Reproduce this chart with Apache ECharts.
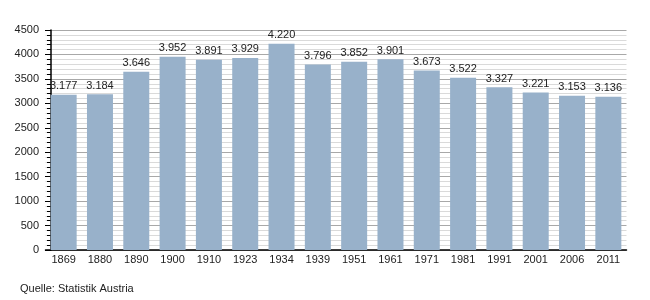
<!DOCTYPE html>
<html><head><meta charset="utf-8">
<script src="https://cdn.jsdelivr.net/npm/echarts@6/dist/echarts.min.js"></script>
<style>html,body{margin:0;padding:0;background:#fff}#c{width:650px;height:300px}</style>
</head><body><div id="c"></div>
<script>
var years = ['1869','1880','1890','1900','1910','1923','1934','1939','1951','1961','1971','1981','1991','2001','2006','2011'];
var population = [3177,3184,3646,3952,3891,3929,4220,3796,3852,3901,3673,3522,3327,3221,3153,3136];
var yTicks = {min:0, max:4500, interval:500};
var sourceText = 'Quelle: Statistik Austria';

var font = 'Liberation Sans, Arial, sans-serif';
var chart = echarts.init(document.getElementById('c'), null, {renderer:'canvas'});
chart.setOption({
  animation:false,
  backgroundColor:'#fff',
  grid:{left:45.5, right:23.5, top:30, bottom:50, containLabel:false},
  xAxis:{
    type:'category', data:years,
    axisLine:{show:true, lineStyle:{color:'#000', width:1.5}},
    axisTick:{show:false},
    axisLabel:{color:'#222', fontFamily:font, fontSize:11, margin:4},
    splitLine:{show:false}
  },
  yAxis:{
    type:'value', min:yTicks.min, max:yTicks.max, interval:yTicks.interval,
    offset:-5.5,
    axisLine:{show:true, lineStyle:{color:'#000', width:1.5}},
    axisTick:{show:true, length:6, lineStyle:{color:'#000'}},
    minorTick:{show:true, splitNumber:5, length:4, lineStyle:{color:'#000'}},
    axisLabel:{color:'#222', fontFamily:font, fontSize:11, margin:12,
      formatter:function(v){ return String(v); }},
    splitLine:{show:true, lineStyle:{color:'#a8a8a8', width:1}},
    minorSplitLine:{show:true, lineStyle:{color:'#dadada', width:1}}
  },
  series:[{
    type:'bar', data:population, barWidth:26,
    itemStyle:{color:'#98b1ca'},
    label:{show:true, position:'top', distance:3, color:'#222', fontFamily:font, fontSize:11,
      formatter:function(p){ var v=String(p.value); return v.slice(0,v.length-3)+'.'+v.slice(-3); }}
  }],
  graphic:[{type:'text', left:20, top:283, style:{text:sourceText, fill:'#222', font:'11px '+font}}]
});
</script></body></html>
